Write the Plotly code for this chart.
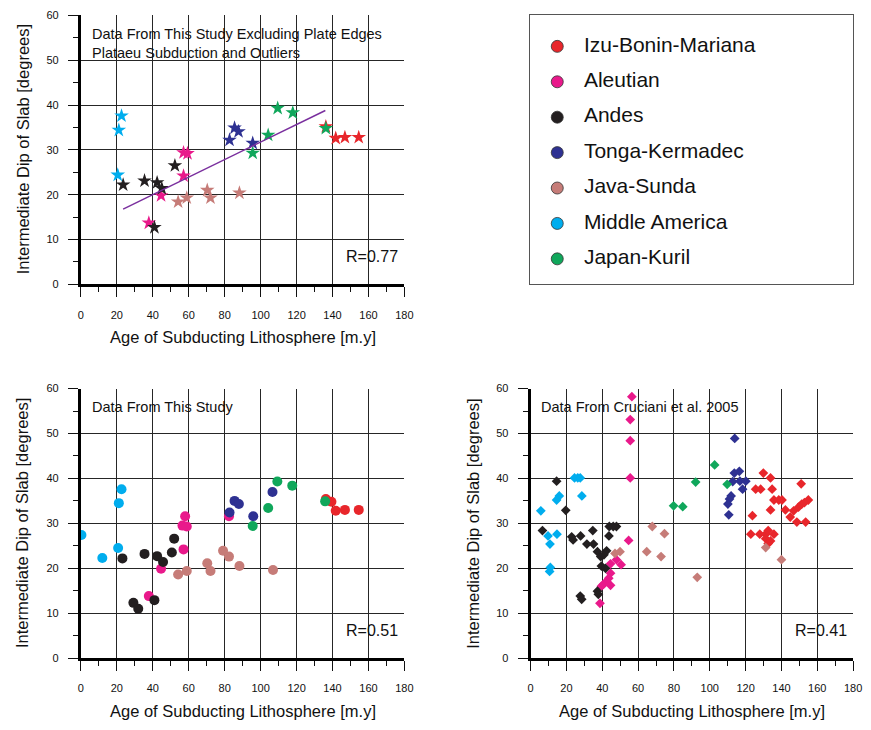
import plotly.graph_objects as go

# Subduction zones and their colours
regions = ["Izu-Bonin-Mariana", "Aleutian", "Andes", "Tonga-Kermadec",
           "Java-Sunda", "Middle America", "Japan-Kuril"]
colors = ["#e8262b", "#e9198b", "#231f20", "#2e3192", "#c67c78", "#00adee", "#10a75b"]

# Panel A: this study, excluding plate edges, plateau subduction and outliers
excl_age = {
    "Izu-Bonin-Mariana": [136.3, 141.8, 146.9, 154.6],
    "Aleutian": [57.1, 59.3, 57.1, 44.6, 37.8],
    "Andes": [23.5, 35.4, 42.4, 45.0, 52.3, 40.9],
    "Tonga-Kermadec": [82.7, 85.5, 87.7, 95.6],
    "Java-Sunda": [54.1, 58.9, 70.3, 72.1, 88.2],
    "Middle America": [22.6, 21.1, 20.5],
    "Japan-Kuril": [104.2, 109.5, 117.9, 95.6, 136.3],
}
excl_dip = {
    "Izu-Bonin-Mariana": [35.2, 32.6, 32.8, 32.8],
    "Aleutian": [29.4, 29.2, 24.2, 19.8, 13.7],
    "Andes": [22.2, 23.1, 22.7, 21.4, 26.5, 12.7],
    "Tonga-Kermadec": [32.2, 34.9, 34.1, 31.5],
    "Java-Sunda": [18.4, 19.3, 21.0, 19.3, 20.4],
    "Middle America": [37.6, 34.4, 24.4],
    "Japan-Kuril": [33.3, 39.3, 38.3, 29.3, 34.8],
}
fit_age = [23.5, 136.0]
fit_dip = [16.8, 38.8]

# Panel B: all data from this study
study_age = {
    "Izu-Bonin-Mariana": [136.3, 139.4, 141.8, 146.9, 154.6],
    "Aleutian": [37.8, 44.6, 57.1, 56.5, 58.9, 58.0, 82.4],
    "Andes": [23.1, 29.2, 31.9, 35.4, 40.9, 42.4, 45.7, 50.6, 51.9],
    "Tonga-Kermadec": [82.7, 85.5, 87.9, 95.9, 106.6],
    "Java-Sunda": [54.1, 58.9, 70.3, 72.1, 79.1, 82.4, 88.2, 106.9],
    "Middle America": [0.3, 11.9, 20.7, 21.1, 22.6],
    "Japan-Kuril": [95.6, 104.2, 109.3, 117.6, 135.9],
}
study_dip = {
    "Izu-Bonin-Mariana": [35.4, 34.8, 32.8, 33.0, 33.0],
    "Aleutian": [13.8, 19.9, 24.2, 29.5, 29.3, 31.6, 31.6],
    "Andes": [22.2, 12.3, 11.0, 23.2, 12.9, 22.7, 21.4, 23.5, 26.6],
    "Tonga-Kermadec": [32.4, 35.0, 34.3, 31.6, 37.0],
    "Java-Sunda": [18.6, 19.4, 21.1, 19.4, 23.9, 22.6, 20.5, 19.6],
    "Middle America": [27.4, 22.3, 24.5, 34.5, 37.6],
    "Japan-Kuril": [29.4, 33.4, 39.3, 38.4, 34.9],
}

# Panel C: Cruciani et al. 2005
cruc_age = {
    "Izu-Bonin-Mariana": [129.9, 133.9, 151.0, 125.6, 128.4, 134.8, 135.8, 138.5, 140.3, 155.0,
                          133.9, 142.2, 146.8, 149.5, 151.3, 152.8, 144.9, 123.8, 148.6, 153.5,
                          122.9, 127.9, 131.2, 132.6, 135.8, 131.2, 133.9, 132.6],
    "Aleutian": [55.6, 56.5, 55.6, 55.6, 54.7, 47.9, 44.6, 50.5, 44.6, 43.6, 42.4, 40.6, 39.5,
                 44.6, 38.7],
    "Andes": [14.5, 19.6, 6.6, 22.9, 23.7, 27.9, 34.7, 43.9, 46.1, 47.9, 43.7, 31.4, 35.1, 37.3,
              42.4, 39.1, 40.9, 39.5, 41.8, 27.7, 28.5, 37.3, 37.8],
    "Tonga-Kermadec": [113.9, 113.7, 116.5, 112.8, 116.8, 120.1, 118.3, 111.9, 111.0, 110.1,
                       110.6],
    "Java-Sunda": [67.9, 74.7, 64.8, 72.8, 93.0, 47.1, 49.9, 131.2, 140.0],
    "Middle America": [24.5, 26.3, 27.7, 16.0, 14.5, 28.6, 5.7, 9.7, 14.7, 10.8, 11.0, 10.6],
    "Japan-Kuril": [102.7, 92.1, 109.7, 79.8, 84.9],
}
cruc_dip = {
    "Izu-Bonin-Mariana": [41.2, 40.1, 38.8, 37.6, 37.6, 37.6, 35.2, 35.2, 35.2, 35.2,
                          33.0, 33.0, 32.8, 33.6, 34.3, 34.6, 31.4, 31.7, 30.3, 30.3,
                          27.6, 27.6, 27.6, 28.4, 27.6, 26.6, 26.1, 25.5],
    "Aleutian": [40.1, 58.2, 53.1, 48.4, 26.2, 21.9, 21.0, 20.8, 18.9, 17.8, 17.1, 16.4, 16.0,
                 16.2, 12.2],
    "Andes": [39.4, 32.9, 28.4, 27.0, 26.3, 27.2, 28.4, 29.3, 29.3, 29.3, 27.2, 25.4, 25.4, 23.7,
              23.9, 22.6, 23.0, 20.5, 20.0, 13.8, 13.1, 14.9, 14.2],
    "Tonga-Kermadec": [48.9, 41.2, 41.6, 39.3, 39.4, 39.4, 37.6, 36.1, 35.4, 34.3, 31.9],
    "Java-Sunda": [29.3, 27.7, 23.7, 22.6, 18.0, 23.3, 23.7, 24.6, 21.9],
    "Middle America": [40.1, 40.1, 40.1, 36.1, 35.2, 36.1, 32.8, 27.2, 27.6, 25.4, 20.2, 19.3],
    "Japan-Kuril": [43.0, 39.2, 38.7, 33.9, 33.7],
}

FONT = "Liberation Sans, Arial, Helvetica, sans-serif"
INK = "#111111"

fig = go.Figure()


def add_panel(ages, dips, xa, ya, symbol, size):
    for name, col in zip(regions, colors):
        fig.add_trace(go.Scatter(
            x=ages[name], y=dips[name], mode="markers", xaxis=xa, yaxis=ya,
            marker=dict(symbol=symbol, size=size, color=col, line=dict(width=0)),
            showlegend=False, hoverinfo="x+y", name=name,
        ))


add_panel(excl_age, excl_dip, "x", "y", "star", 11)
fig.add_trace(go.Scatter(x=fit_age, y=fit_dip, mode="lines", xaxis="x", yaxis="y",
                         line=dict(color="#7a2f9e", width=1.5), showlegend=False))
add_panel(study_age, study_dip, "x2", "y2", "circle", 10)
add_panel(cruc_age, cruc_dip, "x3", "y3", "diamond", 7.5)

# Key panel: one row per region
key_rows = list(range(len(regions)))
fig.add_trace(go.Scatter(
    x=[28] * len(regions), y=key_rows, mode="markers", xaxis="x4", yaxis="y4",
    marker=dict(size=12, color=colors, line=dict(width=0.8, color="#333333")),
    showlegend=False, hoverinfo="skip",
))
fig.add_trace(go.Scatter(
    x=[55] * len(regions), y=key_rows, mode="text", xaxis="x4", yaxis="y4",
    text=regions, textposition="middle right",
    textfont=dict(family=FONT, size=21, color=INK),
    showlegend=False, hoverinfo="skip",
))


def xaxis(domain, anchor):
    return dict(
        domain=domain, anchor=anchor, range=[0, 180], tick0=0, dtick=20,
        showgrid=True, gridcolor="#262626", gridwidth=1.2,
        showline=True, linecolor="#000000", linewidth=3,
        ticks="outside", ticklen=10, tickwidth=1, tickcolor=INK,
        minor=dict(dtick=10, ticks="outside", ticklen=5, tickwidth=1, tickcolor=INK, showgrid=False),
        tickfont=dict(family=FONT, size=11, color=INK), ticklabelstandoff=8,
        zeroline=False, fixedrange=True,
    )


def yaxis(domain, anchor):
    return dict(
        domain=domain, anchor=anchor, range=[0, 60], tick0=0, dtick=10,
        showgrid=True, gridcolor="#262626", gridwidth=1.2,
        showline=True, linecolor="#000000", linewidth=3,
        ticks="outside", ticklen=10, tickwidth=1, tickcolor=INK,
        minor=dict(dtick=5, ticks="outside", ticklen=5, tickwidth=1, tickcolor=INK, showgrid=False),
        tickfont=dict(family=FONT, size=11, color=INK), ticklabelstandoff=7,
        zeroline=False, fixedrange=True,
    )


W, H = 871, 730
top_dom = [(H - 283) / H, (H - 9.6) / H]
bot_dom = [(H - 663) / H, (H - 389) / H]
left_dom = [79 / W, 407 / W]
right_dom = [535 / W, 862 / W]

fig.update_layout(
    width=W, height=H, margin=dict(l=0, r=0, t=0, b=0),
    paper_bgcolor="white", plot_bgcolor="white",
    xaxis=xaxis(left_dom, "y"), yaxis=yaxis(top_dom, "x"),
    xaxis2=xaxis(left_dom, "y2"), yaxis2=yaxis(bot_dom, "x2"),
    xaxis3=xaxis(right_dom, "y3"), yaxis3=yaxis(bot_dom, "x3"),
    xaxis4=dict(domain=[534 / W, 862 / W], anchor="y4", range=[0, 328], visible=True,
                showgrid=False, zeroline=False, showticklabels=False, ticks="",
                showline=True, mirror=True, linecolor="#555555", linewidth=1, fixedrange=True),
    yaxis4=dict(domain=[(H - 283) / H, (H - 9) / H], anchor="x4", range=[6.72, -0.89],
                showgrid=False, zeroline=False, showticklabels=False, ticks="",
                showline=True, mirror=True, linecolor="#555555", linewidth=1, fixedrange=True),
    font=dict(family=FONT, color=INK),
)

ann = []


def px(x, y):
    return x / W, (H - y) / H


xt = "Age of Subducting Lithosphere [m.y]"
yt = "Intermediate Dip of Slab [degrees]"
for cx, cy in [(243, 337), (243, 717), (698.5, 717)]:
    x, y = px(cx, cy)
    ann.append(dict(x=x, y=y, xref="paper", yref="paper", text=xt, showarrow=False,
                    xanchor="center", yanchor="middle", font=dict(size=16.5, family=FONT, color=INK)))
for cx, cy in [(20, 146), (20, 526), (477, 526)]:
    x, y = px(cx, cy)
    ann.append(dict(x=x, y=y, xref="paper", yref="paper", text=yt, showarrow=False, textangle=-90,
                    xanchor="center", yanchor="middle", font=dict(size=16.5, family=FONT, color=INK)))

for cx, cy, txt in [
    (88, 18, "Data From This Study Excluding Plate Edges<br>Plataeu Subduction and Outliers"),
    (88, 398, "Data From This Study"),
    (543, 398, "Data From Cruciani et al. 2005"),
]:
    x, y = px(cx, cy)
    ann.append(dict(x=x, y=y, xref="paper", yref="paper", text=txt, showarrow=False, align="left",
                    xanchor="left", yanchor="top", font=dict(size=14.5, family=FONT, color=INK)))

for cx, cy, txt in [(403, 255, "R=0.77"), (403, 635, "R=0.51"), (858, 635, "R=0.41")]:
    x, y = px(cx, cy)
    ann.append(dict(x=x, y=y, xref="paper", yref="paper", text=txt, showarrow=False,
                    xanchor="right", yanchor="middle", font=dict(size=16, family=FONT, color=INK)))

fig.update_layout(annotations=ann)
fig.write_html("out.html", post_script="document.body.style.margin='0';")
